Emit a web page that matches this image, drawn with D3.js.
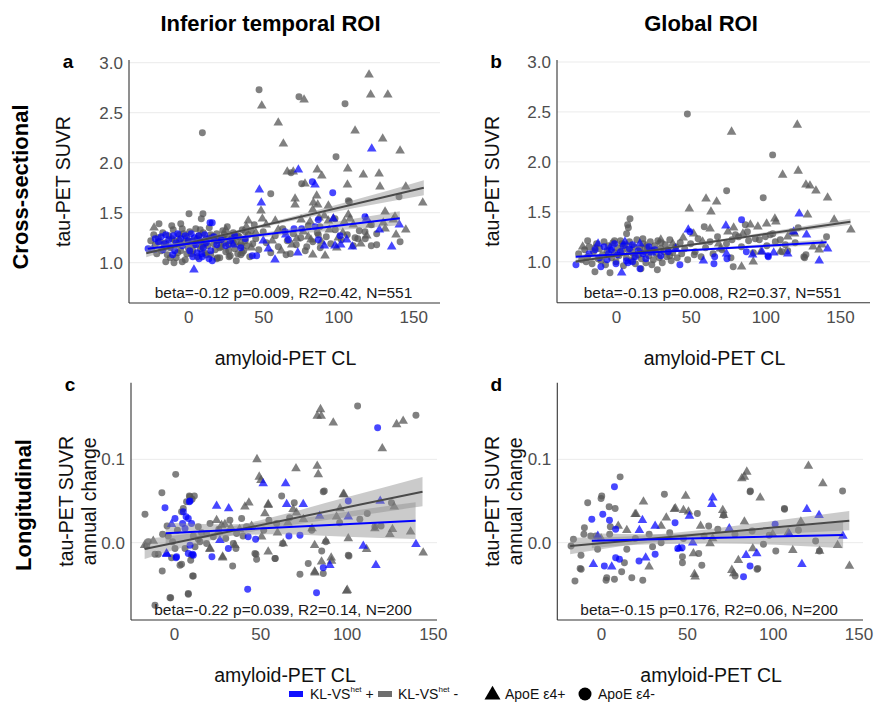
<!DOCTYPE html>
<html lang="en">
<head>
<meta charset="UTF-8">
<title>tau-PET vs amyloid-PET by KL-VS</title>
<script src="https://d3js.org/d3.v7.min.js"></script>
<style>
    body {
        margin: 0;
        background: #fff;
        font-family: "Liberation Sans", Arial, sans-serif;
    }
    .tick text {
        fill: #4d4d4d;
        font-size: 17px;
    }
    .grid line {
        stroke: #ebebeb;
    }
    .axis-line {
        stroke: #333;
        stroke-width: 1.1;
    }
    .ax-title {
        fill: #111;
        font-size: 19.5px;
    }
    .stat {
        fill: #1a1a1a;
        font-size: 15.5px;
    }
    .big {
        font-weight: bold;
        font-size: 22px;
        fill: #000;
    }
    .letter {
        font-weight: bold;
        font-size: 19px;
        fill: #000;
    }
    .legend text {
        font-size: 14px;
        fill: #111;
    }
</style>
</head>
<body>
<div id="chart"></div>

<script>
// ---- data: [amyloid-PET CL, tau value] ----
// a: inferior temporal, cross-sectional
var aGrayDot = [[47.2,2.73],[9.4,2.30],[73.8,2.66],[104.5,2.59],[98.5,2.06],[140.5,1.66],[106.7,1.62],[55,1.69],[75.6,1.79],[0.5,1.49],[9.8,1.49],[8.7,1.44],[-5,1.39],[-19.5,1.39],[-11,1.37],[125.6,1.29],[141.2,1.21],[125.6,1.18],[122,1.17],[65.2,1.08],[68,1.09],[111.2,1.25],[113,1.24],[68.5,1.90],[107.4,1.61],[97.8,1.44],[87.8,1.36],[79,1.16],[86.7,1.28],[117.8,1.31],[-15,1.01],[-9.5,1.00],[-4,1.01],[19.4,1.05],[27.2,1.06],[35,1.08],
    [-25,1.22],[-22,1.18],[-20,1.25],[-18,1.12],[-17,1.30],[-15,1.20],[-14,1.08],[-13,1.27],[-12,1.15],[-10,1.33],[-9,1.22],[-8,1.05],[-7,1.18],[-6,1.28],[-5,1.12],[-4,1.34],[-3,1.20],[-2,1.03],[-1,1.25],[0,1.15],[1,1.31],[2,1.09],[3,1.22],[4,1.18],[5,1.34],[6,1.06],[7,1.27],[8,1.14],[9,1.21],[10,1.30],[11,1.10],[12,1.24],[13,1.17],[14,1.35],[15,1.08],[16,1.26],[17,1.19],[18,1.13],[19,1.29],[20,1.22],[21,1.05],[22,1.16],[23,1.32],[24,1.20],[25,1.11],[26,1.27],[27,1.18],[28,1.07],[29,1.24],[30,1.30],[31,1.14],[32,1.21],[33,1.09],[34,1.26],[35,1.17],[36,1.33],[37,1.12],[38,1.22],[40,1.28],[41,1.06],[43,1.19],[45,1.24],[47,1.13],[50,1.31],[52,1.20],[55,1.10],[58,1.27],[60,1.16],[63,1.34],[66,1.22],[70,1.29],[72,1.18],[75,1.25],[78,1.12],[80,1.37],[83,1.21],[86,1.30],[88,1.15],[92,1.26],[95,1.19],[98,1.33],[102,1.23],[106,1.28],[110,1.17],[114,1.32],[118,1.24],[122,1.38],
    [-19,1.21],[-16,1.15],[-11,1.24],[-7,1.10],[-3,1.29],[0,1.21],[3,1.12],[6,1.24],[9,1.16],[12,1.08],[15,1.28],[18,1.23],[21,1.15],[24,1.28],[27,1.12],[30,1.20],[33,1.27],[36,1.10],[39,1.17],[42,1.32],[-21,1.09],[-12,1.05],[-1,1.09],[8,1.33],[19,1.04],[26,1.36],[32,1.02],[44,1.38],[-23,1.28],[-6,1.22],[11,1.19],[23,1.25],[38,1.31]];
var aGrayTri = [[49,2.57],[60,2.40],[63.4,2.19],[77.2,2.63],[120.5,2.88],[121.6,2.68],[133,2.68],[111.2,2.32],[129.6,2.24],[141.2,2.12],[106.3,1.94],[116.7,1.88],[127.2,1.89],[106.1,1.78],[127.8,1.76],[145,1.76],[156.3,1.60],[131.2,1.51],[93.4,1.57],[86,1.93],[89,1.87],[66,1.91],[70,1.91],[77.8,1.79],[85.6,1.67],[83.4,1.60],[86.3,1.58],[83,1.53],[48.5,1.52],[71.2,1.64],[71.2,1.58],[49.4,1.44],[38.7,1.36],[96.7,1.44],[107.8,1.44],[137.8,1.46],[138.5,1.28],[91.2,1.07],[83,1.08],[-22.8,1.35],[87.2,1.45],[90.7,1.47],[106.7,1.48],[136.7,1.43],[104,1.41],[93.4,1.42],[81.2,1.41],[75.2,1.43],[76.7,1.31],[80,1.26],[81.8,1.23],[69,1.18],[72.3,1.24],[121.2,1.38],[131.2,1.34],[100,1.25],[88.8,1.21],[60,1.33],[56,1.22],[52,1.38],[45,1.30],[42,1.15],[62,1.12],[58,1.42],[94,1.33],[99,1.15],[103,1.30],[110,1.38],[115,1.19],[119,1.27],[130,1.40],[145,1.33],[30,1.26],[25,1.33],[35,1.20],[20,1.22],[40,1.42]];
var aBlueDot = [[96.3,1.70],[82.7,1.81],[86.7,1.43],[70.5,1.34],[117.8,1.46],[42.7,1.07],[45.6,1.07],[-10.4,1.08],[16,1.02],[14.5,1.40],[16,1.40],[-26.8,1.14],[7.2,1.04],[9.4,1.06],[13.8,1.04],[84.5,1.36],[75.6,1.34],[64.5,1.31],[66.7,1.23],[86.7,1.23],[101.2,1.27],
    [-20,1.21],[-18,1.26],[-16,1.19],[-15,1.28],[-13,1.23],[-12,1.16],[-10,1.27],[-8,1.20],[-7,1.29],[-5,1.24],[-4,1.17],[-2,1.27],[0,1.22],[1,1.12],[2,1.29],[4,1.25],[5,1.18],[6,1.10],[7,1.27],[8,1.22],[10,1.15],[11,1.28],[12,1.20],[14,1.24],[15,1.12],[17,1.26],[19,1.18],[22,1.23],[25,1.17],[28,1.22],[31,1.27],[35,1.15],[38,1.24],[-17,1.13],[-9,1.12],[3,1.06],[9,1.09],[-22,1.24]];
var aBlueTri = [[122.3,2.14],[73.4,1.93],[84.5,1.78],[47.4,1.73],[48.7,1.60],[127.4,1.33],[140.7,1.38],[135.6,1.16],[109.4,1.16],[105.6,1.23],[101.6,1.18],[97.8,1.17],[90.7,1.17],[73,1.10],[57.8,1.03],[53.4,1.14],[3.8,0.93],[96.7,1.44],[118.9,1.44],[50,1.22],[30,1.18],[-24,1.13],[65,1.28]];

// b: global, cross-sectional
var bGrayDot = [[47.8,2.48],[104.9,2.07],[74.1,1.71],[98.6,1.64],[9.4,1.43],[8.3,1.34],[7.1,1.28],[7.8,1.37],[59.1,1.35],[141,1.25],[125.8,1.05],[126.3,1.04],[127.2,1.07],[78.5,0.95],[-14.1,0.90],[-4,0.89],[27.7,0.92],[16.7,0.93],[-19,1.21],[122,1.34],[100,1.25],[103.3,1.27],[93.3,1.23],[77.7,1.22],[82.1,1.25],[88.8,1.21],[111.2,1.10],[113.4,1.17],[106.7,1.20],[117.8,1.30],[52.4,1.07],[86.6,1.37],
    [-25,1.08],[-23,1.02],[-21,1.12],[-19,1.05],[-18,1.15],[-16,0.98],[-15,1.10],[-13,1.18],[-12,1.03],[-11,1.13],[-9,1.07],[-8,1.20],[-7,0.97],[-6,1.11],[-5,1.16],[-3,1.04],[-2,1.19],[-1,1.09],[0,1.00],[1,1.14],[2,1.06],[3,1.21],[4,1.11],[5,0.96],[6,1.17],[7,1.04],[8,1.12],[9,1.20],[10,1.01],[11,1.09],[12,1.15],[13,0.98],[14,1.22],[15,1.07],[16,1.13],[17,1.03],[18,1.18],[19,1.10],[20,0.99],[21,1.14],[22,1.06],[23,1.20],[24,1.11],[25,1.02],[26,1.16],[27,1.08],[28,1.21],[29,1.04],[30,1.13],[31,0.99],[32,1.10],[33,1.17],[34,1.05],[35,1.12],[36,1.22],[37,1.01],[38,1.09],[40,1.15],[41,1.04],[43,1.19],[44,1.08],[46,1.13],[48,1.02],[50,1.18],[53,1.10],[55,1.23],[57,1.05],[60,1.14],[63,1.20],[65,1.08],[68,1.25],[71,1.12],[74,1.18],[77,1.04],[80,1.27],[84,1.15],[88,1.30],[92,1.09],[96,1.22],[101,1.16],[105,1.28],[110,1.22],[115,1.11],[120,1.19],[-20,1.00],[-10,1.01],[-1,1.21],[12,1.05],[24,0.97],[36,1.06],[-14,1.14],[4,1.18],[18,1.23],[30,1.19]];
var bGrayTri = [[77.4,2.30],[121.4,2.37],[111.6,1.87],[122,1.91],[127.2,1.77],[129.9,1.76],[133.9,1.71],[141.7,1.64],[60.3,1.63],[67.4,1.60],[63.6,1.50],[49.1,1.53],[128.3,1.47],[106.4,1.43],[100.9,1.38],[107.1,1.40],[146.1,1.42],[157.3,1.32],[84.1,0.95],[91.9,1.00],[-22.3,1.15],[137.9,1.17],[78.8,1.34],[90,1.37],[119.6,1.28],[68.8,1.18],[69.9,1.13],[110,1.10],[136,1.12],[132,1.15],[75,1.30],[95,1.35],[85,1.28],[58,1.20],[45,1.24],[38,1.18],[30,1.22],[20,1.16],[52,1.28],[63,1.33],[97,1.10],[115,1.25]];
var bBlueDot = [[49.5,1.30],[84.1,1.42],[65.6,0.98],[102,1.05],[42.8,0.97],[-26.8,0.97],[16.1,0.93],[11.1,1.00],[-10.1,0.95],[101.8,1.06],[87.3,1.10],[74.3,1.03],[66.1,1.05],
    [-18,1.08],[-14,1.12],[-11,1.04],[-8,1.15],[-6,1.02],[-3,1.12],[-1,1.18],[1,1.07],[3,1.10],[5,1.16],[7,1.01],[9,1.13],[11,1.17],[13,1.05],[15,1.11],[18,1.08],[22,1.15],[26,1.12],[30,1.06],[35,1.10],[-5,1.08],[0,0.98],[8,0.99],[20,1.03]];
var bBlueTri = [[48.4,1.32],[73.6,1.36],[122.7,1.48],[127.6,1.27],[119,1.30],[141.7,1.13],[136.1,1.01],[58.5,1.01],[91.5,1.07],[97.8,1.10],[105.6,1.09],[3.8,0.89],[74,1.08],[115,1.08],[-12,1.18],[-4,1.14],[6,1.20],[16,1.18],[24,1.09],[40,1.13]];

// c: inferior temporal, longitudinal (annual change)
var cGrayDot = [[106.4,0.164],[140.2,0.153],[1,0.082],[-7,0.060],[86.5,0.061],[62.4,0.056],[8.9,0.056],[11.8,0.056],[10.5,0.052],[69.7,0.048],[126,0.048],[107.7,0.028],[-16.8,0.034],[101.4,-0.016],[85.6,-0.010],[86.5,-0.037],[73,-0.038],[77.8,-0.025],[34,-0.028],[58.7,-0.019],[47.9,-0.020],[47.5,-0.014],[11.2,-0.040],[8.3,-0.062],[-2.3,-0.066],[-11,-0.075],[-6.8,-0.034],[3.5,-0.027],[4.4,-0.026],[9.7,-0.021],[10.2,-0.015],[-14.9,0.001],[-11,-0.014],[-9.1,-0.014],[-6.6,0.010],[-3.3,0.008],[-0.8,0.001],[-1.4,-0.018],[-1.9,-0.066],[8.3,-0.061],[10.8,-0.040],[4.4,0.037],[5.4,0.041],[7.3,0.049],[9.3,0.055],[14.1,0.019],[12.2,-0.005],[15.1,0.001],[18.9,-0.001],[6.4,-0.007],[0.6,-0.007],[20.9,0.023],[18.9,0.011],[22.8,0.007],[11.2,0.008],[14.1,0.004],[32.4,0.027],[36.3,0.011],[34.4,-0.001],[35.9,-0.007],[39.2,0.029],[46.9,-0.013],[58.5,-0.019],[59.5,0.023],[63,-0.001],[88,0.001],[87.1,0.062],[101,-0.015],[116.4,0.019],[-15.8,-0.004],[2,0.015],[-4,0.020],[16,0.012],[26,0.016],[42,0.019],[52,0.015],[30,0.005],[40,0.008],[55,0.027],[67,0.030],[79.8,0.015],[96,0.024],[112,0.035],[120,0.020]];
var cGrayTri = [[84.9,0.160],[83,0.152],[85.3,0.152],[92.3,0.144],[129,0.142],[132.8,0.146],[120.7,0.113],[48.1,0.100],[70.7,0.089],[83,0.092],[83.6,0.082],[49.4,0.079],[50.4,0.075],[98.5,0.058],[41.1,0.043],[43.4,0.048],[54.6,0.046],[127.6,0.043],[116.4,0.017],[126.6,0.016],[125.1,0.010],[137.1,0.013],[101,0.005],[144.4,-0.012],[111.6,-0.008],[88,0.002],[81.5,-0.003],[91.1,-0.018],[91.3,-0.022],[85.5,-0.023],[81.5,-0.035],[100,-0.058],[54.6,-0.011],[63.3,-0.001],[28.2,-0.018],[20.8,-0.008],[35.3,-0.003],[81.7,-0.036],[94.2,0.031],[96.2,0.041],[98.1,0.058],[100.4,-0.057],[52.7,0.035],[54.6,0.045],[24.7,0.027],[27.6,0.021],[29.5,0.022],[25.7,0.013],[20.9,-0.007],[28.2,-0.017],[50.8,0.007],[69,0.040],[71,0.036],[80,0.017],[66,0.024],[45,0.020],[38,0.016],[33,0.018],[60,0.012],[75,0.028],[-12,0.002],[-17,-0.003]];
var cBlueDot = [[118,0.138],[-5.2,0.042],[9.3,0.050],[101,0.050],[86.5,-0.030],[82.6,-0.060],[42.7,-0.056],[66.6,0.008],[73,0.009],[47.3,0.004],[43,0.007],[31.5,-0.007],[22,-0.017],[1.2,-0.018],[10.8,-0.014],[0.6,0.029],[1.5,-0.017],[8.9,0.049],[5.4,0.037],[8.3,0.029],[5,0.023],[7,0.031],[6.4,0.017],[10.2,0.023],[9.3,-0.003],[8.3,-0.013],[11.2,-0.015]];
var cBlueTri = [[51.7,0.071],[64.7,0.071],[24.7,0.044],[31.7,0.041],[65.3,0.046],[74.9,0.046],[119.5,0.050],[101,0.031],[84.4,0.032],[140.2,-0.002],[109.7,-0.004],[117,-0.027],[90.3,-0.027],[-4.2,-0.014],[-1.4,0.022],[-4.3,-0.013],[26.6,0.003]];

// d: global, longitudinal (annual change)
var dGrayDot = [[11.1,0.079],[86.8,0.061],[140.7,0.062],[36.9,0.058],[0.4,0.056],[0,0.053],[-7.8,0.048],[56.1,0.035],[106.9,0.040],[4.7,0.043],[8.2,0.041],[-9.7,0.018],[-16.1,0.004],[-17.5,-0.004],[-11.7,-0.015],[-12.2,-0.031],[-15.2,-0.046],[3.3,-0.042],[2.9,-0.045],[7.8,-0.044],[12,-0.035],[17.9,-0.042],[24.3,-0.045],[47.4,-0.024],[47.4,-0.017],[58.7,-0.027],[78.1,-0.040],[91.3,-0.031],[94.6,-0.002],[101.8,-0.010],[5.4,0.019],[5,0.010],[-10,0.010],[-6,0.008],[-3,0.008],[-11.6,-0.032],[13.6,-0.024],[56.9,-0.013],[62.7,0.020],[71.4,0.033],[98,0.009],[106.8,0.041],[87,0.062],[90.9,-0.032],[127.2,-0.010],[20,0.005],[28,0.010],[35,0.000],[40,0.012],[48,0.005],[60,0.008],[68,0.016],[78,0.010],[88,0.014],[115,0.015],[125,0.002],[-2,-0.008],[15,-0.008],[30,-0.005]];
var dGrayTri = [[120.8,0.092],[84.9,0.085],[83.5,0.079],[82,0.077],[129.2,0.071],[92.7,0.054],[49.3,0.056],[24.7,0.049],[42.7,0.040],[48,0.039],[50.9,0.037],[70.9,0.039],[116.4,0.025],[83.5,0.025],[19.8,0.034],[28,-0.029],[54.8,-0.041],[54.4,-0.038],[53.8,-0.013],[76.2,-0.033],[80,-0.021],[88.4,-0.007],[111.7,-0.009],[127.3,-0.010],[144.7,-0.028],[137.8,-0.003],[63.5,-0.001],[20.4,0.034],[43.3,0.041],[71.4,0.033],[77.3,-0.037],[100,0.010],[109,0.012],[35,0.020],[58,0.020],[10,0.020],[0,0.005],[15,0.015],[38,0.030],[65,0.005]];
var dBlueDot = [[7.8,0.067],[43.1,0.024],[-5.4,0.028],[1,0.034],[4.9,0.027],[8.5,0.016],[1.9,-0.028],[8.5,-0.018],[10.7,-0.020],[22.1,-0.022],[31.5,-0.014],[83,-0.041],[86.8,-0.028],[101.4,0.022],[44.7,-0.007],[47.2,-0.006]];
var dBlueTri = [[65.1,0.054],[64.5,0.046],[119.9,0.040],[127,0.033],[31.5,0.020],[24.1,0.027],[22.3,0.015],[-4.5,-0.026],[6.2,-0.029],[26,-0.018],[84.5,-0.015],[90.7,-0.013],[117,-0.026],[140.9,0.008],[45.5,-0.007],[-1.9,0.008],[53.4,0.000],[74.7,0.017],[109.7,0.010],[51.5,0.032]];

// fitted lines [x0, y0, x1, y1]: KL-VShet -, KL-VShet +
var aFit = [[-28, 1.095, 157, 1.75], [-27, 1.14, 141, 1.445]];
var bFit = [[-27, 1.003, 157, 1.40], [-27, 1.05, 141, 1.195]];
var cFit = [[-17, -0.0076, 144, 0.0612], [-4.8, 0.0113, 140, 0.0264]];
var dFit = [[-18, -0.004, 144.6, 0.0264], [-5.4, 0.0024, 141, 0.0092]];
// confidence band half-widths [CL, half-width]
var aBand = [[[-28,0.04],[20,0.016],[65,0.02],[110,0.04],[157,0.075]], [[-27,0.03],[10,0.015],[60,0.025],[100,0.045],[141,0.07]]];
var bBand = [[[-27,0.02],[20,0.01],[70,0.012],[110,0.02],[157,0.03]], [[-27,0.02],[20,0.01],[70,0.012],[110,0.02],[141,0.03]]];
var cBand = [[[-17,0.012],[20,0.006],[50,0.006],[100,0.012],[144,0.0175]], [[-4.8,0.0125],[30,0.007],[60,0.008],[100,0.015],[140,0.022]]];
var dBand = [[[-18,0.01],[20,0.005],[60,0.005],[100,0.008],[144.6,0.0115]], [[-5.4,0.009],[30,0.006],[70,0.007],[110,0.011],[141,0.016]]];

var xTicks = [0, 50, 100, 150];
var crossTicks = [1.0, 1.5, 2.0, 2.5, 3.0];
var longTicks = [0.0, 0.1];
var stats = ["beta=-0.12 p=0.009, R2=0.42, N=551", "beta=-0.13 p=0.008, R2=0.37, N=551",
             "beta=-0.22 p=0.039, R2=0.14, N=200", "beta=-0.15 p=0.176, R2=0.06, N=200"];

var blue = "#0000ff", grey = "#555555";

var svg = d3.select("#chart")
    .append("svg")
    .attr("width", 874)
    .attr("height", 715);

var panels = [
    {letter: "a", left: 129, right: 440, top: 60, bottom: 303, xd: [-39.5, 167.8], yd: [0.597, 3.027], yt: crossTicks,
     pts: [aGrayDot, aGrayTri, aBlueDot, aBlueTri], fit: aFit, band: aBand, stat: stats[0], lab: ["tau-PET SUVR"], labX: [63], titleY: 358},
    {letter: "b", left: 557, right: 870, top: 60, bottom: 302.7, xd: [-39.5, 170.1], yd: [0.59, 3.02], yt: crossTicks,
     pts: [bGrayDot, bGrayTri, bBlueDot, bBlueTri], fit: bFit, band: bBand, stat: stats[1], lab: ["tau-PET SUVR"], labX: [492.5], titleY: 358},
    {letter: "c", left: 131, right: 437, top: 382.7, bottom: 620, xd: [-24.9, 152.4], yd: [-0.0928, 0.1920], yt: longTicks,
     pts: [cGrayDot, cGrayTri, cBlueDot, cBlueTri], fit: cFit, band: cBand, stat: stats[2], lab: ["tau-PET SUVR", "annual change"], labX: [66, 89], titleY: 675},
    {letter: "d", left: 557.3, right: 863, top: 382.7, bottom: 620, xd: [-25.5, 152.6], yd: [-0.0928, 0.1920], yt: longTicks,
     pts: [dGrayDot, dGrayTri, dBlueDot, dBlueTri], fit: dFit, band: dBand, stat: stats[3], lab: ["tau-PET SUVR", "annual change"], labX: [492.5, 515], titleY: 675}
];

var dot = d3.symbol().type(d3.symbolCircle).size(38);
var tri = d3.symbol().type(d3.symbolTriangle).size(40);

panels.forEach(function(p) {
    var x = d3.scaleLinear().domain(p.xd).range([p.left, p.right]);
    var y = d3.scaleLinear().domain(p.yd).range([p.bottom, p.top]);
    var g = svg.append("g");

    // horizontal grid
    g.append("g").attr("class", "grid")
        .selectAll("line").data(p.yt).enter().append("line")
        .attr("x1", p.left).attr("x2", p.right)
        .attr("y1", function(d) { return y(d); })
        .attr("y2", function(d) { return y(d); });

    // points: grey first, blue on top
    var sets = [
        {data: p.pts[0], sym: dot, col: grey, op: 0.75},
        {data: p.pts[1], sym: tri, col: grey, op: 0.75},
        {data: p.pts[2], sym: dot, col: blue, op: 0.72},
        {data: p.pts[3], sym: tri, col: blue, op: 0.72}
    ];
    sets.forEach(function(s) {
        g.append("g").selectAll("path").data(s.data).enter().append("path")
            .attr("d", s.sym)
            .attr("transform", function(d) { return "translate(" + x(d[0]) + "," + y(d[1]) + ")"; })
            .attr("fill", s.col)
            .attr("fill-opacity", s.op);
    });

    // confidence bands and lines
    p.fit.forEach(function(f, i) {
        var slope = (f[3] - f[1]) / (f[2] - f[0]);
        var at = function(c) { return f[1] + (c - f[0]) * slope; };
        var area = d3.area()
            .curve(d3.curveMonotoneX)
            .x(function(d) { return x(d[0]); })
            .y0(function(d) { return y(at(d[0]) - d[1]); })
            .y1(function(d) { return y(at(d[0]) + d[1]); });
        g.append("path")
            .attr("d", area(p.band[i]))
            .attr("fill", "#8c8c8c")
            .attr("fill-opacity", 0.45);
    });
    p.fit.forEach(function(f, i) {
        g.append("line")
            .attr("x1", x(f[0])).attr("y1", y(f[1]))
            .attr("x2", x(f[2])).attr("y2", y(f[3]))
            .attr("stroke", i == 0 ? "#4a4a4a" : blue)
            .attr("stroke-width", 2);
    });

    // axes
    var xAxis = d3.axisBottom(x).tickValues(xTicks).tickSize(0).tickPadding(8);
    var yAxis = d3.axisLeft(y).tickValues(p.yt).tickFormat(d3.format(".1f")).tickSize(0).tickPadding(6);
    g.append("g").attr("transform", "translate(0," + p.bottom + ")").call(xAxis)
        .call(function(a) { a.select(".domain").remove(); })
        .selectAll("text").attr("font-family", null);
    g.append("g").attr("transform", "translate(" + p.left + ",0)").call(yAxis)
        .call(function(a) { a.select(".domain").remove(); })
        .selectAll("text").attr("font-family", null);
    g.selectAll(".tick text").attr("font-size", null);

    g.append("line").attr("class", "axis-line")
        .attr("x1", p.left).attr("x2", p.left).attr("y1", p.top).attr("y2", p.bottom);
    g.append("line").attr("class", "axis-line")
        .attr("x1", p.left).attr("x2", p.right).attr("y1", p.bottom).attr("y2", p.bottom);

    // annotation
    g.append("text").attr("class", "stat")
        .attr("x", (p.left + p.right) / 2 - 1).attr("y", p.bottom - 10)
        .attr("dy", "0.35em")
        .attr("text-anchor", "middle")
        .text(p.stat);

    // axis titles
    g.append("text").attr("class", "ax-title")
        .attr("x", (p.left + p.right) / 2 + 1).attr("y", p.titleY)
        .attr("dy", "0.35em").attr("text-anchor", "middle")
        .text("amyloid-PET CL");
    var cy = (p.top + p.bottom) / 2;
    p.lab.forEach(function(t, i) {
        g.append("text").attr("class", "ax-title")
            .attr("transform", "translate(" + p.labX[i] + "," + cy + ") rotate(-90)")
            .attr("dy", "0.35em").attr("text-anchor", "middle")
            .text(t);
    });

    // panel letter
    g.append("text").attr("class", "letter")
        .attr("x", p.left - 61).attr("y", p.top + 1.5)
        .attr("dy", "0.35em").attr("text-anchor", "middle")
        .text(p.letter);
});

// column / row headers
svg.append("text").attr("class", "big").attr("x", 270.5).attr("y", 23).attr("dy", "0.35em")
    .attr("text-anchor", "middle").text("Inferior temporal ROI");
svg.append("text").attr("class", "big").attr("x", 701).attr("y", 23).attr("dy", "0.35em")
    .attr("text-anchor", "middle").text("Global ROI");
svg.append("text").attr("class", "big").attr("transform", "translate(20,187) rotate(-90)").attr("dy", "0.35em")
    .attr("text-anchor", "middle").text("Cross-sectional");
svg.append("text").attr("class", "big").attr("transform", "translate(23,505) rotate(-90)").attr("dy", "0.35em")
    .attr("text-anchor", "middle").text("Longitudinal");

// legend
var legY = 694;
var legend = svg.append("g").attr("class", "legend");
legend.append("rect").attr("x", 289).attr("y", legY - 3).attr("width", 14).attr("height", 6).attr("fill", "#1010ff");
legend.append("rect").attr("x", 378).attr("y", legY - 3).attr("width", 14).attr("height", 6).attr("fill", "#6e6e6e");
legend.append("path").attr("d", d3.symbol().type(d3.symbolTriangle).size(110))
    .attr("transform", "translate(492.5," + (legY + 1) + ")").attr("fill", "#000");
legend.append("circle").attr("cx", 585).attr("cy", legY).attr("r", 6.5).attr("fill", "#000");

var kl = [{x: 310, sign: " +"}, {x: 398, sign: " -"}];
kl.forEach(function(k) {
    var t = legend.append("text").attr("x", k.x).attr("y", legY).attr("dy", "0.35em");
    t.append("tspan").text("KL-VS");
    t.append("tspan").attr("font-size", "8px").attr("dy", "-0.9em").text("het");
    t.append("tspan").attr("dy", "0.55em").text(k.sign);
});
legend.append("text").attr("x", 505).attr("y", legY).attr("dy", "0.35em").text("ApoE \u03b54+");
legend.append("text").attr("x", 598).attr("y", legY).attr("dy", "0.35em").text("ApoE \u03b54-");
</script>
</body>
</html>
